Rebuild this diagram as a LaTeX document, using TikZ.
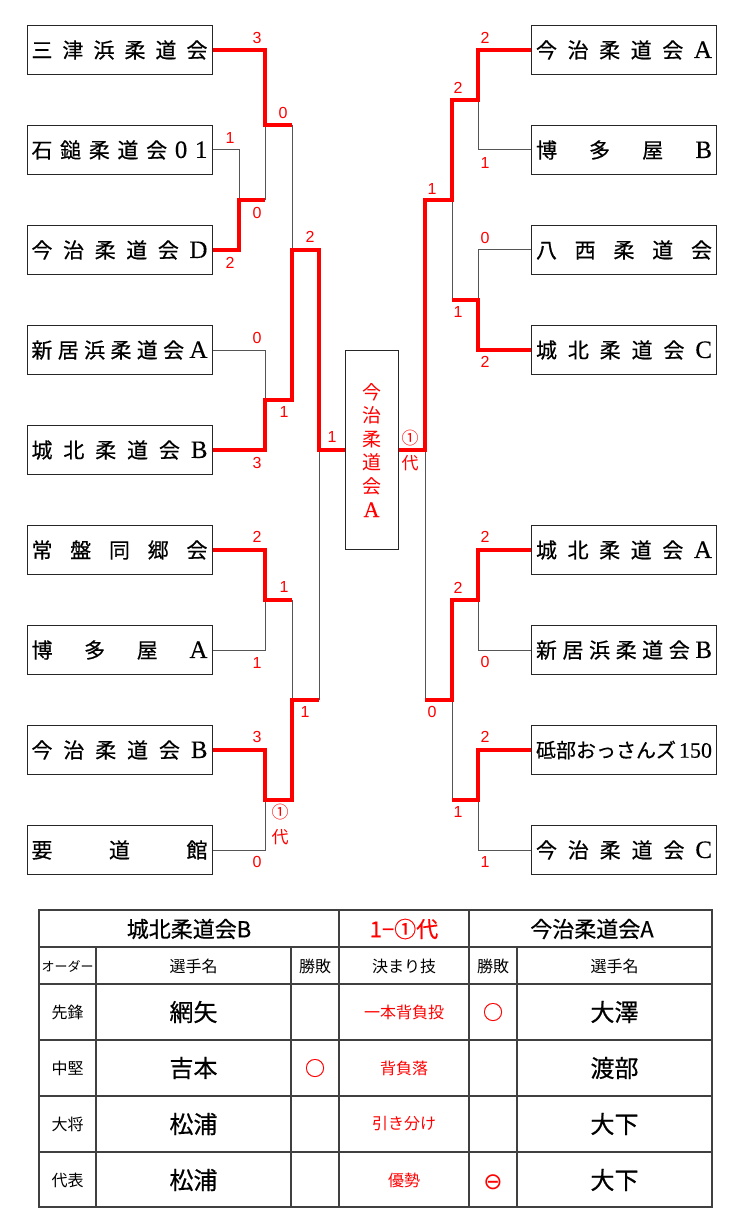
\documentclass[tikz,border=0pt]{standalone}
\usepackage{fontspec}
\setmainfont{Noto Sans CJK JP}
\newfontfamily\heavyfont[FakeBold=0.5]{Noto Sans CJK JP}
\newfontfamily\latfont[FakeBold=0.3]{Liberation Serif}
\newfontfamily\scfont{Liberation Sans}
\newfontfamily\symfont{DejaVu Sans}
\definecolor{linegray}{RGB}{85,85,85}
\newcommand\spreadtxt[1]{\makebox[176pt][s]{#1}}
\newcommand\lat[1]{{\latfont\fontsize{25}{25}\selectfont #1}}

\begin{document}
\begin{tikzpicture}[x=1pt,y=-1pt,
    team/.style={draw=black!85, line width=1pt, minimum width=185pt, minimum height=49pt, inner sep=0pt, font=\heavyfont\fontsize{21}{21}\selectfont},
    win/.style={red, line width=4pt},
    lose/.style={linegray, line width=1pt},
    score/.style={text=red, inner sep=0pt, font=\scfont\fontsize{16}{16}\selectfont},
    daihyo/.style={text=red, inner sep=0pt, font=\fontsize{17}{17}\selectfont},
    tab/.style={draw=black!75, line width=1.2pt},
    cell/.style={inner sep=0pt, font=\fontsize{16}{16}\selectfont},
    bigcell/.style={inner sep=0pt, font=\heavyfont\fontsize{24}{24}\selectfont},
    titlecell/.style={inner sep=0pt, font=\heavyfont\fontsize{22}{22}\selectfont}]

    \useasboundingbox (0,0) rectangle (735,1214);

    % left teams
    \node[team] (L1) at (119.5,50) {\spreadtxt{三\hfill 津\hfill 浜\hfill 柔\hfill 道\hfill 会}};
    \node[team] (L2) at (119.5,150) {\spreadtxt{石\hfill 鎚\hfill 柔\hfill 道\hfill 会\hfill\lat{0}\hfill\lat{1}}};
    \node[team] (L3) at (119.5,250) {\spreadtxt{今\hfill 治\hfill 柔\hfill 道\hfill 会\hfill\lat{D}}};
    \node[team] (L4) at (119.5,350) {\spreadtxt{新\hfill 居\hfill 浜\hfill 柔\hfill 道\hfill 会\hfill\lat{A}}};
    \node[team] (L5) at (119.5,450) {\spreadtxt{城\hfill 北\hfill 柔\hfill 道\hfill 会\hfill\lat{B}}};
    \node[team] (L6) at (119.5,550) {\spreadtxt{常\hfill 盤\hfill 同\hfill 郷\hfill 会}};
    \node[team] (L7) at (119.5,650) {\spreadtxt{博\hfill 多\hfill 屋\hfill\lat{A}}};
    \node[team] (L8) at (119.5,750) {\spreadtxt{今\hfill 治\hfill 柔\hfill 道\hfill 会\hfill\lat{B}}};
    \node[team] (L9) at (119.5,850) {\spreadtxt{要\hfill 道\hfill 館}};

    % right teams
    \node[team] (R1) at (624,50) {\spreadtxt{今\hfill 治\hfill 柔\hfill 道\hfill 会\hfill\lat{A}}};
    \node[team] (R2) at (624,150) {\spreadtxt{博\hfill 多\hfill 屋\hfill\lat{B}}};
    \node[team] (R3) at (624,250) {\spreadtxt{八\hfill 西\hfill 柔\hfill 道\hfill 会}};
    \node[team] (R4) at (624,350) {\spreadtxt{城\hfill 北\hfill 柔\hfill 道\hfill 会\hfill\lat{C}}};
    \node[team] (R5) at (624,550) {\spreadtxt{城\hfill 北\hfill 柔\hfill 道\hfill 会\hfill\lat{A}}};
    \node[team] (R6) at (624,650) {\spreadtxt{新\hfill 居\hfill 浜\hfill 柔\hfill 道\hfill 会\hfill\lat{B}}};
    \node[team] (R7) at (624,750) {\spreadtxt{\fontsize{20}{20}\selectfont 砥部おっさんズ\hfill{\latfont\fontsize{22}{22}\selectfont 150}}};
    \node[team] (R8) at (624,850) {\spreadtxt{今\hfill 治\hfill 柔\hfill 道\hfill 会\hfill\lat{C}}};

    % winner
    \node[draw=black!85, line width=1pt, minimum width=53pt, minimum height=199pt, inner sep=0pt,
          text=red, align=center, font=\fontsize{19}{23.6}\selectfont] (C) at (371.5,450)
          {今\\治\\柔\\道\\会\\{\latfont\fontsize{22}{23.6}\selectfont A}};

    % joints
    \coordinate (la) at (239,200);
    \coordinate (lb) at (265,125);
    \coordinate (lc) at (265,400);
    \coordinate (ld) at (292,250);
    \coordinate (le) at (265,600);
    \coordinate (lf) at (265,800);
    \coordinate (lg) at (292,700);
    \coordinate (lh) at (319,450);
    \coordinate (ra) at (478,100);
    \coordinate (rb) at (478,300);
    \coordinate (rc) at (452,200);
    \coordinate (rd) at (478,600);
    \coordinate (re) at (478,800);
    \coordinate (rf) at (452,700);
    \coordinate (rg) at (425,450);

    \draw[lose] (L2.east) -| (la);
    \draw[lose] (la -| lb) -- (lb);
    \draw[lose] (lb -| ld) -- (ld);
    \draw[lose] (L4.east) -| (lc);
    \draw[lose] (L7.east) -| (le);
    \draw[lose] (L9.east) -| (lf);
    \draw[lose] (le -| lg) -- (lg);
    \draw[lose] (lg -| lh) -- (lh);
    \draw[lose] (R2.west) -| (ra);
    \draw[lose] (R3.west) -| (rb);
    \draw[lose] (rb -| rc) -- (rc);
    \draw[lose] (R6.west) -| (rd);
    \draw[lose] (R8.west) -| (re);
    \draw[lose] (re -| rf) -- (rf);
    \draw[lose] (rf -| rg) -- (rg);

    \draw[win] (L1.east) -| (lb) -- (lb -| ld);
    \draw[win] (L3.east) -| (la) -- (la -| lb);
    \draw[win] (L5.east) -| (lc) -- (lc -| ld) -- (ld) -- (ld -| lh) -- (lh) -- (C.west);
    \draw[win] (L6.east) -| (le) -- (le -| lg);
    \draw[win] (L8.east) -| (lf) -- (lf -| lg) -- (lg) -- (lg -| lh);
    \draw[win] (R1.west) -| (ra) -- (ra -| rc) -- (rc) -- (rc -| rg) -- (rg) -- (C.east);
    \draw[win] (R4.west) -| (rb) -- (rb -| rc);
    \draw[win] (R5.west) -| (rd) -- (rd -| rf) -- (rf) -- (rf -| rg);
    \draw[win] (R7.west) -| (re) -- (re -| rf);

    % scores left
    \node[score] (sl1) at (257,38) {3};
    \node[score] (sl2) at (283,113) {0};
    \node[score] (sl3) at (230,138) {1};
    \node[score] (sl4) at (257,213) {0};
    \node[score] (sl5) at (230,263) {2};
    \node[score] (sl6) at (310,237) {2};
    \node[score] (sl7) at (257,338) {0};
    \node[score] (sl8) at (284,412) {1};
    \node[score] (sl9) at (257,463) {3};
    \node[score] (sl10) at (332,437) {1};
    \node[score] (sl11) at (257,537) {2};
    \node[score] (sl12) at (284,587) {1};
    \node[score] (sl13) at (257,663) {1};
    \node[score] (sl14) at (305,712) {1};
    \node[score] (sl15) at (257,737) {3};
    \node[daihyo] (sl16) at (280,812) {①};
    \node[daihyo] (sl17) at (280,837) {代};
    \node[score] (sl18) at (257,862) {0};

    % scores right
    \node[score] (sr1) at (485,38) {2};
    \node[score] (sr2) at (458,88) {2};
    \node[score] (sr3) at (485,163) {1};
    \node[score] (sr4) at (432,189) {1};
    \node[score] (sr5) at (485,238) {0};
    \node[score] (sr6) at (458,312) {1};
    \node[score] (sr7) at (485,362) {2};
    \node[daihyo] (sr8) at (410,438) {①};
    \node[daihyo] (sr9) at (410,463) {代};
    \node[score] (sr10) at (485,537) {2};
    \node[score] (sr11) at (458,588) {2};
    \node[score] (sr12) at (485,662) {0};
    \node[score] (sr13) at (432,712) {0};
    \node[score] (sr14) at (485,737) {2};
    \node[score] (sr15) at (458,812) {1};
    \node[score] (sr16) at (485,862) {1};

    % result table
    \draw[tab] (39,910) rectangle (712,1207);
    \draw[tab] (39,947) -- (712,947);
    \draw[tab] (39,984) -- (712,984);
    \draw[tab] (39,1040) -- (712,1040);
    \draw[tab] (39,1096) -- (712,1096);
    \draw[tab] (39,1152) -- (712,1152);
    \draw[tab] (339,910) -- (339,1207);
    \draw[tab] (469,910) -- (469,1207);
    \draw[tab] (96,947) -- (96,1207);
    \draw[tab] (291,947) -- (291,1207);
    \draw[tab] (517,947) -- (517,1207);

    \node[titlecell] (th1) at (189,929) {城北柔道会B};
    \node[titlecell, text=red] (th2) at (404,929) {1−①代};
    \node[titlecell] (th3) at (592,929) {今治柔道会A};

    \node[cell, font=\fontsize{13}{13}\selectfont] (hd1) at (67.5,966) {オーダー};
    \node[cell] (hd2) at (193.5,966) {選手名};
    \node[cell] (hd3) at (315,966) {勝敗};
    \node[cell] (hd4) at (404,966) {決まり技};
    \node[cell] (hd5) at (493,966) {勝敗};
    \node[cell] (hd6) at (614.5,966) {選手名};

    \node[cell] (o1) at (67.5,1012) {先鋒};
    \node[cell] (o2) at (67.5,1068) {中堅};
    \node[cell] (o3) at (67.5,1124) {大将};
    \node[cell] (o4) at (67.5,1180) {代表};

    \node[bigcell] (pa1) at (193.5,1012) {網矢};
    \node[bigcell] (pa2) at (193.5,1068) {吉本};
    \node[bigcell] (pa3) at (193.5,1124) {松浦};
    \node[bigcell] (pa4) at (193.5,1180) {松浦};

    \node[cell, text=red, font=\heavyfont\fontsize{20}{20}\selectfont] (wa2) at (315,1068) {○};

    \node[cell, text=red] (k1) at (404,1012) {一本背負投};
    \node[cell, text=red] (k2) at (404,1068) {背負落};
    \node[cell, text=red] (k3) at (404,1124) {引き分け};
    \node[cell, text=red] (k4) at (404,1180) {優勢};

    \node[cell, text=red, font=\heavyfont\fontsize{20}{20}\selectfont] (wb1) at (493,1012) {○};
    \node[cell, text=red, font=\symfont\fontsize{23}{23}\selectfont] (wb4) at (493,1182) {⊖};

    \node[bigcell] (pb1) at (614.5,1012) {大澤};
    \node[bigcell] (pb2) at (614.5,1068) {渡部};
    \node[bigcell] (pb3) at (614.5,1124) {大下};
    \node[bigcell] (pb4) at (614.5,1180) {大下};
\end{tikzpicture}
\end{document}
